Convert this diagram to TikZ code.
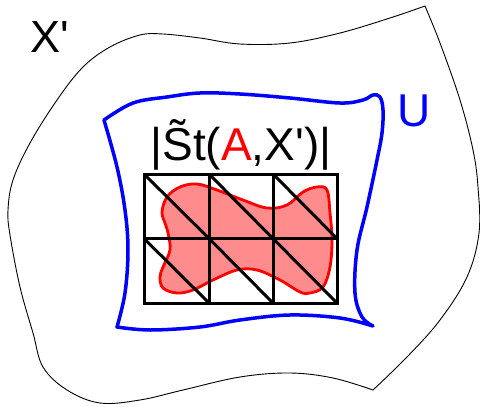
\documentclass[tikz,border=0pt]{standalone}
\usepackage{fontspec}
\setmainfont{Liberation Sans}
\usepackage{tikz}
\usetikzlibrary{positioning}
\usepackage{xcolor}

\begin{document}
\begin{tikzpicture}[x=1pt,y=-1pt]
    \useasboundingbox (0,0) rectangle (480,407);

    % Outer space X'
    \draw[line width=0.9pt]
      plot[smooth, tension=0.6] coordinates {(425,6) (390,18) (340,33) (290,43) (240,44) (200,38) (163,34) (140,35) (110,47) (83,67) (57,100) (30,143) (13,180) (8,210) (10,235) (20,287) (33,333) (43,367) (67,390) (100,403) (140,400) (183,390) (240,377) (290,373) (333,378) (373,390)}
      -- plot[smooth, tension=0.6] coordinates {(373,390) (407,357) (440,320) (467,277) (479,233) (478,187) (473,150) (460,100) (440,43) (425,6)}
      -- cycle;
    \node[anchor=base west, inner sep=0, font=\fontsize{45}{50}\selectfont] (xlabel) at (30,52) {X\textquotesingle};

    % Neighbourhood U
    \draw[blue, line width=3.5pt, line join=round]
      plot[smooth, tension=0.6] coordinates {(104,120) (133,103) (167,97) (200,93) (240,94) (290,98) (340,103) (363,100) (373,95) (380,97) (383,110) (382,133) (377,160) (367,207) (357,250) (355,293) (362,317) (373,326)}
      -- plot[smooth, tension=0.6] coordinates {(373,326) (340,318) (290,315) (240,320) (200,327) (150,330) (117,327)}
      -- plot[smooth, tension=0.6] coordinates {(117,327) (125,293) (128,250) (125,210) (117,167) (104,120)}
      -- cycle;
    \node[anchor=base west, inner sep=0, blue, font=\fontsize{46}{50}\selectfont] (ulabel) at (397,126) {U};

    % Subcomplex A
    \draw[red, line width=2.8pt, fill=red!45]
      plot[smooth cycle, tension=0.6] coordinates {(162,212) (167,197) (180,187) (197,184) (217,190) (243,200) (267,208) (287,205) (303,192) (317,187) (327,190) (330,213) (332,240) (330,267) (323,287) (310,293) (300,292) (280,280) (257,270) (237,270) (213,280) (193,290) (177,293) (163,288) (160,277) (163,267) (170,250) (168,233) (165,223)};

    % Star complex grid
    \draw[line width=3pt] (144,174) rectangle (337,303);
    \draw[line width=3pt] (144,238.5) -- (337,238.5);
    \draw[line width=3pt] (209,174) -- (209,303);
    \draw[line width=3pt] (273,174) -- (273,303);
    \draw[line width=3pt] (144,174) -- (209,238.5);
    \draw[line width=3pt] (209,174) -- (273,238.5);
    \draw[line width=3pt] (273,174) -- (337,238.5);
    \draw[line width=3pt] (144,238.5) -- (209,303);
    \draw[line width=3pt] (209,238.5) -- (273,303);
    \draw[line width=3pt] (273,238.5) -- (337,303);

    % Label of the star
    \node[anchor=base, inner sep=0, font=\fontsize{46}{50}\selectfont] (stlabel) at (241,160) {|\~{S}t(\textcolor{red}{A},X\textquotesingle)|};
\end{tikzpicture}
\end{document}
